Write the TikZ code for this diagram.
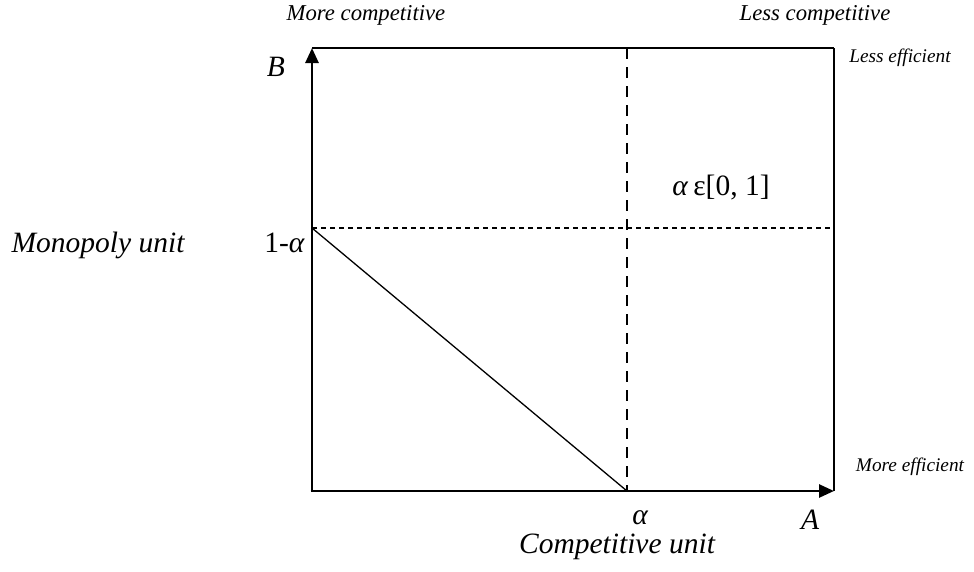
\documentclass[tikz,border=0pt]{standalone}
\usepackage{fontspec}
\setmainfont{Liberation Serif}
\usetikzlibrary{arrows.meta}
\tikzset{
  axisline/.style={line width=2.6pt,-{Triangle[length=15pt,width=13pt]}},
  boxline/.style={line width=1.8pt},
  dashh/.style={line width=1.3pt,dash pattern=on 5pt off 4pt},
  dashv/.style={line width=1.3pt,dash pattern=on 11pt off 8pt},
  thinline/.style={line width=1.3pt},
  small/.style={font=\fontsize{22.7}{26}\selectfont\itshape,inner sep=0pt},
  smaller/.style={font=\fontsize{19.3}{22}\selectfont\itshape,inner sep=0pt},
  big/.style={font=\fontsize{29.5}{34}\selectfont\itshape,inner sep=0pt},
  bigup/.style={font=\fontsize{29.5}{34}\selectfont,inner sep=0pt}
}
\begin{document}
\begin{tikzpicture}[x=1pt,y=-1pt]
\useasboundingbox (0,0) rectangle (974,571);
\coordinate (O) at (312,491);
\coordinate (Atip) at (834,491);
\coordinate (Btip) at (312,48);
\coordinate (TR) at (834,48);
\coordinate (H1) at (312,228);
\coordinate (H2) at (834,228);
\coordinate (V1) at (627,48);
\coordinate (V2) at (627,491);
% dashed lines
\draw[dashh] (H1) -- (H2);
\draw[dashv] (V1) -- (V2);
% diagonal
\draw[thinline] (H1) -- (V2);
% box
\draw[boxline] (Btip) -- (TR);
\draw[line width=1.5pt] (TR) -- (Atip);
% axes
\draw[axisline] (O) -- (Btip);
\draw[axisline] ([xshift=-1.3pt]O) -- (Atip);
% labels
\node[small] (mc) at (366,15) {More competitive};
\node[small] (lc) at (815,15) {Less competitive};
\node[smaller] (le) at (900,58) {Less efficient};
\node[smaller] (me) at (910,467) {More efficient};
\node[big] (b) at (276,67) {B};
\node[big] (mu) at (98,245) {Monopoly unit};
\node[bigup,anchor=east] (oma) at (305,243) {1-\textit{α}};
\node[big] (al) at (640,518) {α};
\node[big] (a) at (810,520) {A};
\node[big] (cu) at (617,547) {Competitive unit};
\node[bigup] (rng) at (721,188) {\textit{α}\,ε[0, 1]};
\end{tikzpicture}
\end{document}
